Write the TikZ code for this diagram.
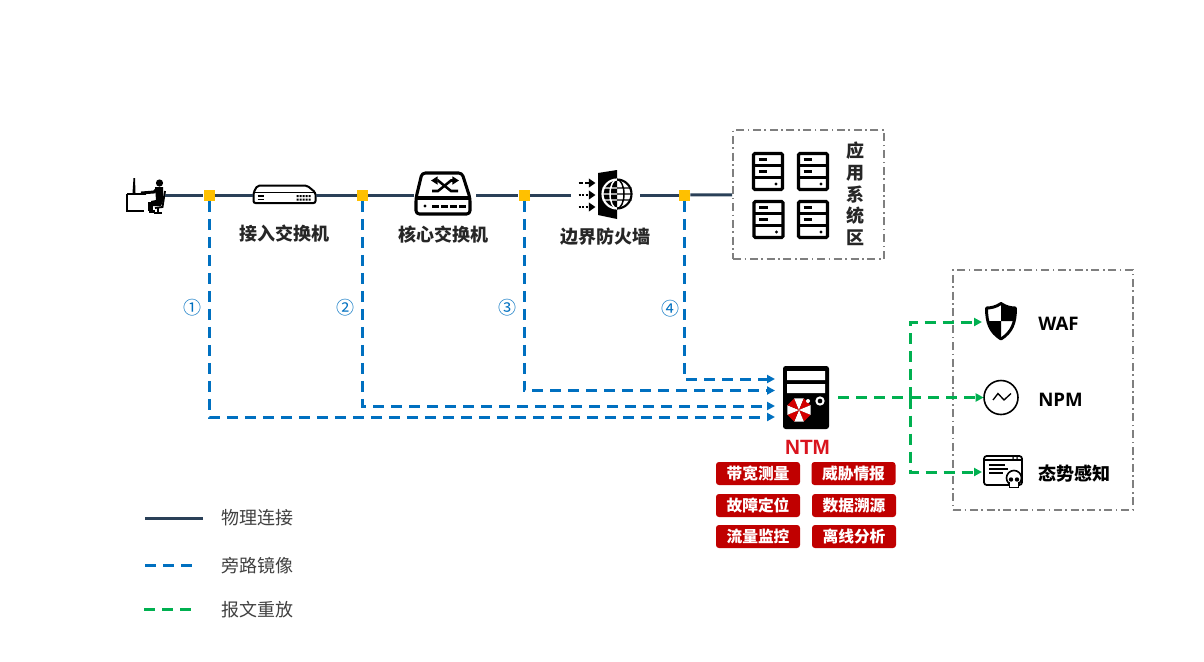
\documentclass[tikz,border=0pt]{standalone}
\usepackage{fontspec}
\usepackage{tikz}
\usetikzlibrary{arrows.meta,calc}
\newfontfamily\cjk{Noto Sans CJK SC}
\newfontfamily\latinbold{Open Sans}
\newfontfamily\arialish{Liberation Sans}
\definecolor{linknavy}{HTML}{2A4058}
\definecolor{mirrorblue}{HTML}{0070C0}
\definecolor{replaygreen}{HTML}{00B050}
\definecolor{tapyellow}{HTML}{FFC000}
\definecolor{tagred}{HTML}{C00000}
\definecolor{ntmred}{HTML}{D9141E}
\definecolor{zonegrey}{HTML}{7F7F7F}
\tikzset{
  physlink/.style={draw=linknavy,line width=2.25pt},
  mirrorlink/.style={draw=mirrorblue,line width=2.25pt,dash pattern=on 8.25pt off 5.25pt,-{Triangle[length=6pt,width=6pt]}},
  replaylink/.style={draw=replaygreen,line width=2.25pt,dash pattern=on 8.25pt off 5.25pt},
  replayarrow/.style={replaylink,-{Triangle[length=6pt,width=6pt]}},
  tap/.style={fill=tapyellow,minimum size=8.25pt,inner sep=0pt},
  iconbox/.style={inner sep=0pt,outer sep=0pt},
  zone/.style={draw=zonegrey,line width=1.5pt,dash pattern=on 6pt off 2.7pt on 1.2pt off 2.7pt,inner sep=0pt},
  devlabel/.style={font=\cjk\bfseries\fontsize{13.5}{16.1}\selectfont,text=black!85,text height=11.9pt,text depth=1.6pt,inner sep=0pt},
  legendtext/.style={font=\cjk\fontsize{13.5}{16}\selectfont,text=black!75,text height=11.9pt,text depth=1.6pt,inner sep=0pt,anchor=west},
  tagbox/.style={fill=tagred,rounded corners=2.2pt,text=white,font=\cjk\bfseries\fontsize{11.8}{14}\selectfont,minimum width=63pt,minimum height=17.25pt,inner sep=0pt},
  portnum/.style={font=\cjk\fontsize{13.5}{16}\selectfont,text=mirrorblue,inner sep=0pt},
  rackicon/.pic={
    \draw[line width=2.3pt,rounded corners=1pt,fill=white] (-14.5,-18) rectangle (14.5,18);
    \draw[line width=2.1pt] (-14.5,-6) -- (14.5,-6) (-14.5,6) -- (14.5,6);
    \draw[line width=1.6pt] (-9.5,-12) -- (-1,-12) (-9.5,0) -- (-1,0);
    \fill (8,12.5) circle (1.6);
  },
  usericon/.pic={
    \draw[line width=.8pt] (-19,-1) -- (-19,16) -- (-2,16);
    \draw[line width=1.4pt] (-19,-1) -- (0,-1);
    \fill (-12.5,-17) -- (-11,-17) -- (-10.5,-2) -- (-13.5,-2) -- cycle;
    \fill (13.5,-12) circle (3.6);
    \fill (9,-8) -- (17,-8) -- (17,6) -- (15,11) -- (5,11) -- (5,6) -- (10,5) -- cycle;
    \draw[line width=2.2pt] (11,-6) -- (8,-3) -- (-5,-2);
    \draw[line width=3.4pt] (8,9) -- (4.5,9) -- (4.5,16);
    \draw[line width=2pt] (3,16.5) -- (9,16.5);
    \draw[line width=1.4pt] (19,-4) -- (16.5,12) -- (9,13);
    \draw[line width=1.3pt] (12,13) -- (12,17) (8,18) -- (16,18);
  },
  accessicon/.pic={
    \draw[line width=1.5pt,rounded corners=1.5pt,fill=white] (-31,-2.5) -- (-27,-9.5) -- (22.5,-9.5) -- (31,-2.5) -- (31,8) -- (-31,8) -- cycle;
    \draw[line width=1.2pt] (-31,-2.5) -- (31,-2.5);
    \draw[line width=1.4pt] (-27,1) -- (-21,1) (-27,4.5) -- (-21,4.5);
    \foreach \dx in {12,15,18,21,24} {\fill (\dx,0) rectangle ++(2,2) (\dx,3.5) rectangle ++(2,2);}
  },
  coreicon/.pic={
    \draw[line width=2.3pt,line join=round,rounded corners=2.5pt] (-29,3) -- (-23,-22) -- (17,-22) -- (25,3) -- (25,19) -- (-29,19) -- cycle;
    \draw[line width=2.3pt] (-29,3) -- (25,3);
    \draw[line width=1.9pt,{Triangle[length=5pt,width=6pt]}-] (-14,-14.5) -- (-7,-14.5) -- (6,-4) -- (13,-4);
    \draw[line width=1.9pt,-{Triangle[length=5pt,width=6pt]}] (-13,-4) -- (-7,-4) -- (6,-14.5) -- (14,-14.5);
    \fill (-20,11) circle (1.6);
    \foreach \dx in {-13,-4,5,14} {\fill (\dx,9.5) rectangle ++(7,3);}
  },
  wallicon/.pic={
    \fill (-7.5,-22) -- (11.5,-25) -- (11.5,24) -- (-7.5,20) -- cycle;
    \begin{scope}
      \clip (-8,-20) rectangle (11.5,20);
      \draw[white,line width=1.6pt] (11.5,-1) circle (14.5);
      \draw[white,line width=1.1pt] (11.5,-1) ellipse (7 and 14.5) (-3,-7) -- (11.5,-7) (-3,5) -- (11.5,5) (-3,-1) -- (11.5,-1);
    \end{scope}
    \begin{scope}
      \clip (11.5,-20) rectangle (30,20);
      \draw[line width=1.6pt] (11.5,-1) circle (14.5);
      \draw[line width=1.1pt] (11.5,-1) ellipse (7 and 14.5) (11.5,-7) -- (26,-7) (11.5,5) -- (26,5) (11.5,-1) -- (26,-1);
    \end{scope}
    \foreach \dy/\dl in {-12/densely dashed,0/densely dotted,12/densely dotted} {
      \draw[line width=1.7pt,\dl,-{Triangle[length=5pt,width=6.5pt]}] (-27,\dy) -- (-10,\dy);}
  },
  ntmicon/.pic={
    \fill[rounded corners=2pt] (-23,-32) rectangle (23,31);
    \fill[white] (-19,-27) rectangle (19,-18) (-19,-14) rectangle (19,-5);
    \foreach \k in {0,2,4,6} {
      \fill[tagred!70!red] (-7,12) -- +(22.5+45*\k:12.5) -- +(67.5+45*\k:12.5) -- cycle;
      \fill[white] (-7,12) -- +(67.5+45*\k:12.5) -- +(112.5+45*\k:12.5) -- cycle;}
    \fill[white] (2,3) circle (2);
    \draw[white,line width=1.5pt] (14,3) circle (3.6);
  },
  shieldicon/.pic={
    \draw[line width=2.2pt,fill=white,line join=round] (0,-17.5) .. controls (5,-14) and (10,-13) .. (14.5,-13) .. controls (14.5,2) and (11,11) .. (0,18) .. controls (-11,11) and (-14.5,2) .. (-14.5,-13) .. controls (-10,-13) and (-5,-14) .. (0,-17.5) -- cycle;
    \fill (0,-17.5) .. controls (5,-14) and (10,-13) .. (14.5,-13) .. controls (14.5,-7) and (14,-3) .. (13,0) -- (0,0) -- cycle;
    \fill (0,0) -- (-13,0) .. controls (-11,7) and (-7,13) .. (0,18) -- cycle;
  },
  npmicon/.pic={
    \draw[line width=1.2pt] (0,0) circle (17);
    \draw[line width=1pt] (-8,2.5) -- (-3,-4) -- (3,2.5) -- (10,-4);
  },
  alerticon/.pic={
    \draw[line width=1.3pt,rounded corners=2pt] (-19,-16) rectangle (19,13);
    \draw[line width=1.1pt] (-19,-12) -- (19,-12);
    \fill (10,-14) circle (1) (14,-14) circle (1);
    \draw[line width=1.3pt] (-14,-7) -- (2,-7) (-14,-3) -- (5,-3) (-14,1) -- (0,1);
    \draw[line width=1.2pt,fill=white] (11,6) circle (7.5);
    \draw[line width=1.2pt,fill=white] (6.5,11) rectangle (15.5,15.5);
    \fill[white] (7.2,9) rectangle (14.8,12);
    \fill (8,7.5) circle (2.2) (14,7.5) circle (2.2);
  },
}
\begin{document}
\begin{tikzpicture}[x=0.75pt,y=-0.75pt]
    \useasboundingbox (0,0) rectangle (1204,661);
    % devices along the physical path
    \node[iconbox,minimum width=28.5pt,minimum height=27pt] (user) at (146,195) {};
    \node[iconbox,minimum width=47.25pt,minimum height=14pt] (accesssw) at (284.5,195) {};
    \node[iconbox,minimum width=46.5pt,minimum height=32pt] (coresw) at (445,195) {};
    \node[iconbox,minimum width=51.75pt,minimum height=36pt] (firewall) at (605.5,195) {};
    \node[zone,minimum width=113.25pt,minimum height=96.75pt] (appzone) at (808.5,194.5) {};
    \node[zone,minimum width=135pt,minimum height=180pt] (toolzone) at (1043,390) {};
    \foreach \name/\px in {tap1/209,tap2/362.5,tap3/524,tap4/684.5} {\node[tap] (\name) at (\px,195) {};}
    \pic at (user) {usericon};
    \pic at (accesssw) {accessicon};
    \pic at (coresw) {coreicon};
    \pic at (firewall) {wallicon};
    \foreach \px/\py in {768/171.5,813/171.5,768.5/219.5,813/219.5} {\pic at (\px,\py) {rackicon};}
    \draw[physlink] (user) -- (tap1);
    \draw[physlink] (tap1) -- (accesssw);
    \draw[physlink] (accesssw) -- (tap2);
    \draw[physlink] (tap2) -- (coresw);
    \draw[physlink] (coresw) -- (tap3);
    \draw[physlink] (tap3) -- (firewall);
    \draw[physlink] (firewall) -- (tap4);
    \draw[physlink] (tap4) -- (appzone);
    \node[devlabel] (accesstext) at (284,234) {接入交换机};
    \node[devlabel] (coretext) at (443,235) {核心交换机};
    \node[devlabel] (walltext) at (605,237) {边界防火墙};
    \foreach \k/\py/\txt in {1/151/应,2/172.5/用,3/194.5/系,4/216/统,5/238/区} {\node[devlabel] (app\k) at (855,\py) {\txt};}
    % mirror ports into the analyser
    \node[iconbox,minimum width=34.5pt,minimum height=47.5pt] (ntm) at (806,398) {};
    \pic at (ntm) {ntmicon};
    \foreach \k/\px/\py in {1/775/417,2/775/406,3/775/390.5,4/775/379} {
        \coordinate (in\k) at (\px,\py);
        \draw[mirrorlink] (tap\k.south) |- (in\k);}
    \foreach \k/\px/\py/\sym in {1/192/308/①,2/345/308/②,3/507/308/③,4/670/309/④} {\node[portnum] (port\k) at (\px,\py) {\sym};}
    \node[font=\arialish\bfseries\fontsize{15.5}{18}\selectfont,text=ntmred,inner sep=0pt] (ntmtext) at (807.5,447) {NTM};
    \foreach \name/\px/\py/\txt in {bw/758/473.5/带宽测量,threat/853.5/473.5/威胁情报,fault/758/505.5/故障定位,trace/854/505.5/数据溯源,flow/758/536.5/流量监控,offline/854/536.5/离线分析} {
        \node[tagbox] (\name) at (\px,\py) {\txt};}
    % replay towards the tools
    \node[iconbox,minimum width=28.5pt,minimum height=29pt] (wafico) at (1001,322) {};
    \node[iconbox,minimum width=26pt,minimum height=26pt] (npmico) at (1001,397.5) {};
    \node[iconbox,minimum width=31.5pt,minimum height=24pt] (alertico) at (1003,472) {};
    \pic at (1001,321) {shieldicon};
    \pic at (npmico) {npmicon};
    \pic at (alertico) {alerticon};
    \coordinate (ntmout) at (838,397.5);
    \coordinate (bus) at (910,397.5);
    \draw[replayarrow] (ntmout) -- (npmico);
    \draw[replayarrow] (bus) |- (wafico);
    \draw[replayarrow] (bus) |- (alertico);
    \node[font=\latinbold\bfseries\fontsize{14}{16}\selectfont,anchor=west,inner sep=0pt] (waftext) at (1038,324) {WAF};
    \node[font=\latinbold\bfseries\fontsize{14}{16}\selectfont,anchor=west,inner sep=0pt] (npmtext) at (1038,400) {NPM};
    \node[devlabel,text=black,anchor=west] (alerttext) at (1038,474) {态势感知};
    % legend
    \coordinate (phys1) at (145,518); \coordinate (phys2) at (203,518);
    \coordinate (mir1) at (145,565.5); \coordinate (mir2) at (198,565.5);
    \coordinate (rep1) at (144,609.5); \coordinate (rep2) at (197,609.5);
    \draw[physlink] (phys1) -- (phys2);
    \draw[mirrorlink,-] (mir1) -- (mir2);
    \draw[replaylink] (rep1) -- (rep2);
    \node[legendtext] (phystext) at (221,517.5) {物理连接};
    \node[legendtext] (mirtext) at (221,566) {旁路镜像};
    \node[legendtext] (reptext) at (221,610) {报文重放};
\end{tikzpicture}
\end{document}
